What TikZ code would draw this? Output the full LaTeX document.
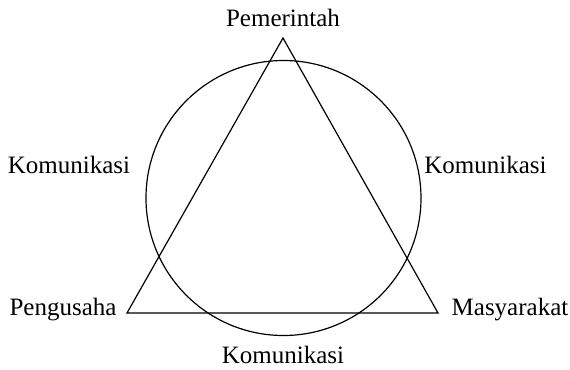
\documentclass[tikz,border=0pt]{standalone}
\usepackage{fontspec}
\setmainfont{Liberation Serif}
\usepackage{tikz}
\usetikzlibrary{positioning}

\begin{document}
\begin{tikzpicture}[x=0.5pt, y=-0.5pt,
  lbl/.style={font=\fontsize{12.5}{14}\selectfont, inner sep=0pt, anchor=base},
  edge/.style={line width=0.6pt, line join=miter}]
\useasboundingbox (0,0) rectangle (570,370);
% corners of the triangle
\coordinate (pem) at (283,38);
\coordinate (pen) at (127,313);
\coordinate (mas) at (438,313);
\coordinate (mid) at (283.5,198);
\draw[edge] (pem) -- (pen) -- (mas) -- cycle;
\draw[edge] (mid) circle[radius=137.5];
% labels
\node[lbl] (tpem) at (283,26) {Pemerintah};
\node[lbl] (tpen) at (63,315) {Pengusaha};
\node[lbl] (tmas) at (510,315) {Masyarakat};
\node[lbl] (kl) at (69,173) {Komunikasi};
\node[lbl] (kr) at (485.5,173) {Komunikasi};
\node[lbl] (kb) at (283,364) {Komunikasi};
\end{tikzpicture}
\end{document}
